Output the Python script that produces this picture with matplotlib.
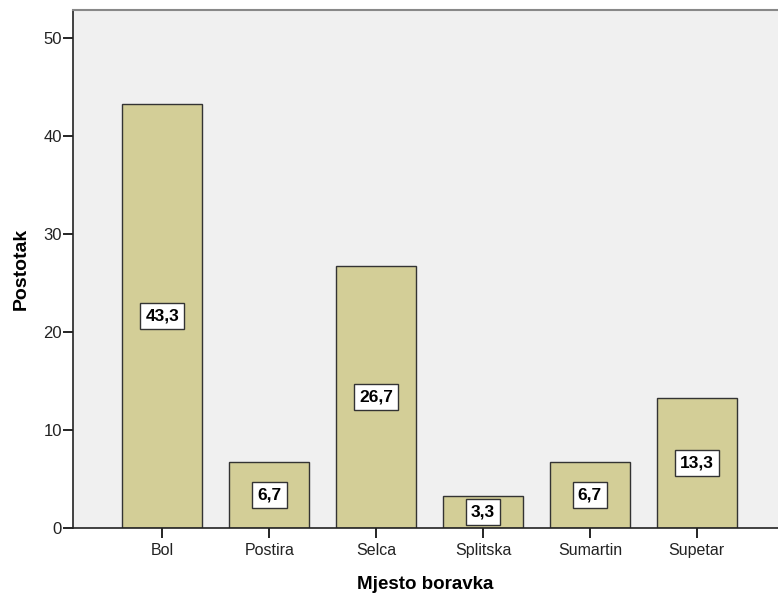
import numpy as np
import matplotlib
matplotlib.use("Agg")
import matplotlib.pyplot as plt

# 柱状图数据
places = ["Bol", "Postira", "Selca", "Splitska", "Sumartin", "Supetar"]
percent = [43.3, 6.7, 26.7, 3.3, 6.7, 13.3]
labels = ["43,3", "6,7", "26,7", "3,3", "6,7", "13,3"]

plt.rcParams["font.family"] = ["Liberation Sans", "DejaVu Sans"]

def main():
    fig = plt.figure(figsize=(7.78, 5.94), dpi=100)
    ax = fig.add_axes([73 / 778, 66 / 594, 1 - 73 / 778, 518 / 594])
    ax.set_facecolor("#F0F0F0")

    x = np.arange(len(places))
    ax.bar(x, percent, width=0.75, color="#D3CE97", edgecolor="#333333", linewidth=1.0, zorder=2)

    # 数值标签 (白底黑框)
    for xi, v, lab in zip(x, percent, labels):
        ax.text(xi, v / 2, lab, ha="center", va="center", fontsize=12.5, fontweight="bold",
                zorder=3,
                bbox=dict(boxstyle="square,pad=0.3", facecolor="white", edgecolor="#333333", linewidth=1.0))

    ax.set_xlim(-0.836, 5.76)
    ax.set_ylim(0, 52.86)
    ax.set_xticks(x)
    ax.set_xticklabels(places, fontsize=11.5, color="#222222")
    ax.set_yticks([0, 10, 20, 30, 40, 50])
    ax.tick_params(axis="y", labelsize=12, length=7.5, width=1.2, direction="out", pad=0.5, labelcolor="#222222")
    ax.tick_params(axis="x", length=7.5, width=1.2, direction="out", pad=3)

    ax.spines["left"].set_color("#222222")
    ax.spines["bottom"].set_color("#222222")
    ax.spines["left"].set_linewidth(1.2)
    ax.spines["bottom"].set_linewidth(1.2)
    ax.spines["top"].set_color("#888888")
    ax.spines["top"].set_linewidth(1.5)
    ax.spines["right"].set_visible(False)

    ax.set_xlabel("Mjesto boravka", fontsize=13.5, fontweight="bold", labelpad=13)
    ax.set_ylabel("Postotak", fontsize=14, fontweight="bold", labelpad=10)

    fig.savefig("out.png", dpi=100)

if __name__ == "__main__":
    main()
